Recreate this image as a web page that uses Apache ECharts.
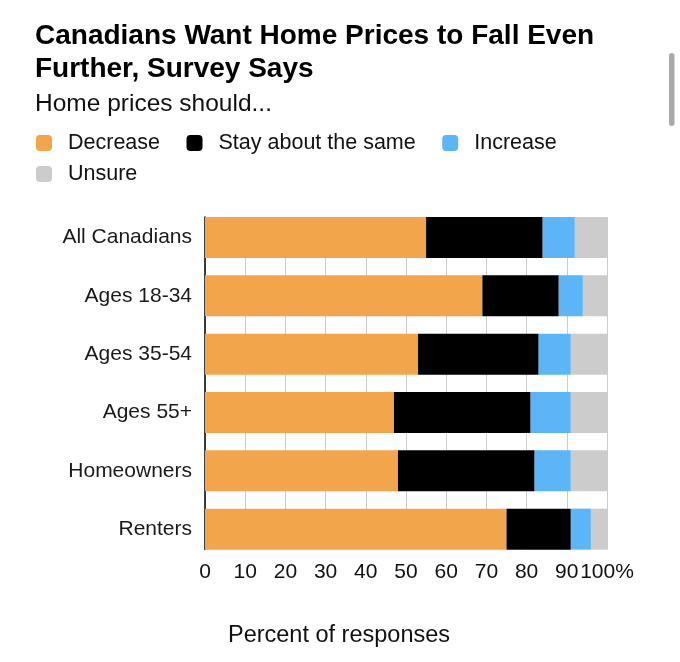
<!DOCTYPE html>
<html>
<head>
<meta charset="utf-8">
<title>Canadians Want Home Prices to Fall Even Further</title>
<script src="https://cdn.jsdelivr.net/npm/echarts@6/dist/echarts.min.js"></script>
<style>
  html, body { margin: 0; padding: 0; background: #fff; }
  #chart { width: 680px; height: 662px; }
</style>
</head>
<body>
<div id="chart"></div>
<script>
// groups, top to bottom
const categories = ['All Canadians', 'Ages 18-34', 'Ages 35-54', 'Ages 55+', 'Homeowners', 'Renters'];
// percent of responses
const decrease = [55, 69, 53, 47, 48, 75];
const stayTheSame = [29, 19, 30, 34, 34, 16];
const increase = [8, 6, 8, 10, 9, 5];
const unsure = [8, 6, 9, 9, 9, 4];
// x axis ticks
const tickValues = [0, 10, 20, 30, 40, 50, 60, 70, 80, 90, 100];

const font = '"Liberation Sans", Arial, Helvetica, sans-serif';

let chart = echarts.init(document.getElementById('chart'));

function barSeries(name, data, color) {
  return {
    name: name,
    type: 'bar',
    stack: 'total',
    data: data,
    barWidth: 41,
    itemStyle: { color: color },
    emphasis: { disabled: true }
  };
}

// shared legend look
function legendBox(top, names) {
  return {
    left: 36,
    top: top,
    padding: 0,
    itemWidth: 16,
    itemHeight: 16,
    itemGap: 26.5,
    icon: 'roundRect',
    selectedMode: false,
    textStyle: {
      fontFamily: font,
      fontSize: 21.5,
      color: '#111',
      padding: [0, 0, 0, 11]
    },
    data: names
  };
}

let option = {
  backgroundColor: '#fff',
  animation: false,
  title: {
    left: 35,
    top: 20,
    padding: 0,
    text: 'Canadians Want Home Prices to Fall Even\nFurther, Survey Says',
    subtext: 'Home prices should...',
    itemGap: 5.5,
    textStyle: {
      fontFamily: font,
      fontSize: 28,
      fontWeight: 'bold',
      lineHeight: 33,
      color: '#000'
    },
    subtextStyle: {
      fontFamily: font,
      fontSize: 24.5,
      lineHeight: 25,
      color: '#111'
    }
  },
  legend: [
    legendBox(132, ['Decrease', 'Stay about the same', 'Increase']),
    legendBox(163, ['Unsure'])
  ],
  // grid 0 holds the bars, grid 1 (same box without the band padding) holds the grid lines
  grid: [
    { left: 205, right: 73, top: 208.3, bottom: 103.7 },
    { left: 205, right: 73, top: 217, bottom: 112.5 }
  ],
  xAxis: [{
    type: 'value',
    gridIndex: 0,
    min: 0,
    max: 100,
    interval: 10,
    show: false
  }, {
    type: 'value',
    gridIndex: 1,
    min: 0,
    max: 100,
    interval: 10,
    axisLine: { show: false },
    axisTick: { show: false },
    splitLine: { show: true, lineStyle: { color: '#cccccc', width: 1 } },
    axisLabel: {
      margin: 12.5,
      fontFamily: font,
      fontSize: 21,
      color: '#111',
      formatter: function (v) {
        if (tickValues.indexOf(v) < 0) return '';
        return v === 100 ? '100%' : String(v);
      }
    },
    name: 'Percent of responses',
    nameLocation: 'middle',
    nameGap: 74.5,
    nameTextStyle: {
      fontFamily: font,
      fontSize: 23.5,
      color: '#111',
      padding: [0, 134, 0, 0]
    }
  }],
  yAxis: [{
    type: 'category',
    gridIndex: 0,
    inverse: true,
    data: categories,
    axisLine: { show: false },
    axisTick: { show: false },
    splitLine: { show: false },
    axisLabel: {
      margin: 13,
      fontFamily: font,
      fontSize: 21,
      color: '#1a1a1a'
    }
  }, {
    type: 'value',
    gridIndex: 1,
    min: 0,
    max: 1,
    axisLine: { show: true, lineStyle: { color: '#000', width: 1.5 } },
    axisTick: { show: false },
    axisLabel: { show: false },
    splitLine: { show: false }
  }],
  series: [
    barSeries('Decrease', decrease, '#f2a54b'),
    barSeries('Stay about the same', stayTheSame, '#000000'),
    barSeries('Increase', increase, '#5cb5f7'),
    barSeries('Unsure', unsure, '#cccccc')
  ],
  graphic: [{
    // page scrollbar seen in the screenshot
    type: 'rect',
    left: 669,
    top: 53,
    shape: { width: 5.5, height: 73, r: 3 },
    style: { fill: '#aaaaaa' },
    silent: true
  }]
};

chart.setOption(option);
</script>
</body>
</html>
